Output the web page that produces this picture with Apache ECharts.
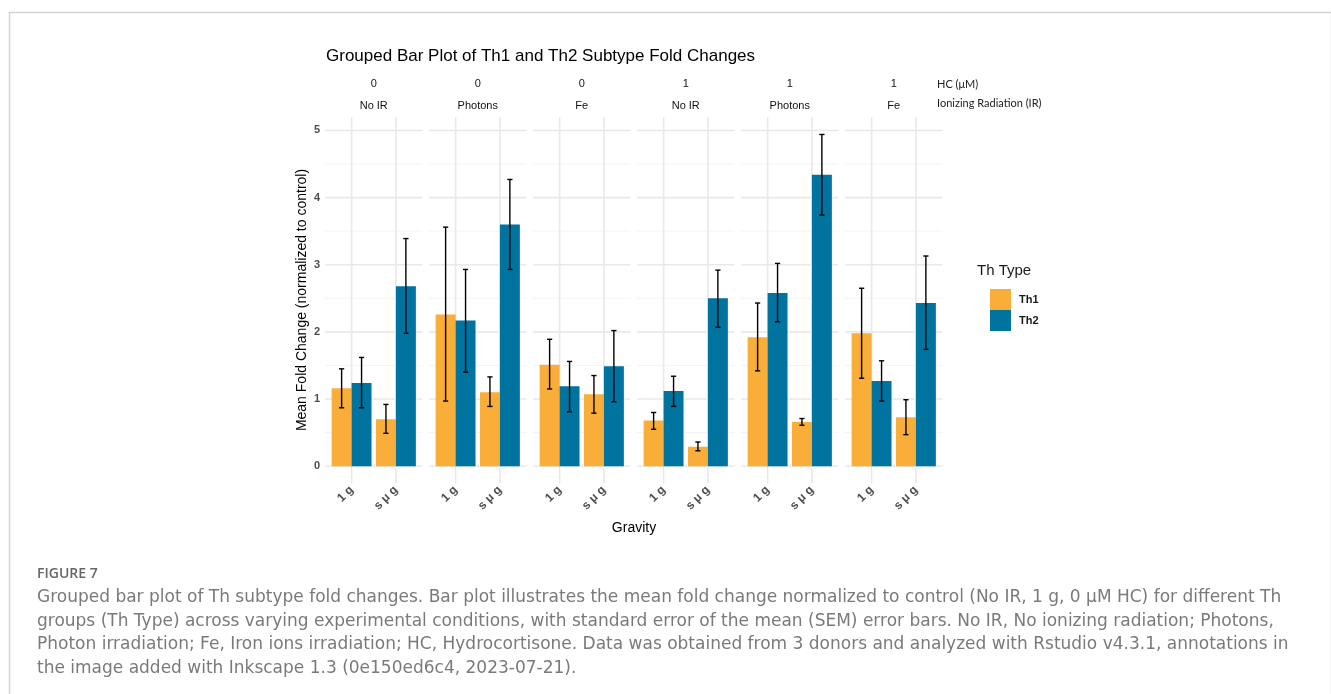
<!DOCTYPE html>
<html>
<head>
<meta charset="utf-8">
<script src="https://cdn.jsdelivr.net/npm/echarts@6/dist/echarts.min.js"></script>
<style>
html,body{margin:0;padding:0;background:#fff;}
#c{width:1331px;height:694px;}
</style>
</head>
<body>
<div id="c"></div>
<script>
// ---- data ----
const facetHC = ['0', '0', '0', '1', '1', '1'];
const facetIR = ['No IR', 'Photons', 'Fe', 'No IR', 'Photons', 'Fe'];
const gravity = ['1 g', 's μ g'];
const seriesNames = ['Th1', 'Th2'];
// per facet: [1 g, s μ g]
const th1Mean  = [[1.16, 0.70], [2.26, 1.10], [1.51, 1.07], [0.68, 0.29], [1.92, 0.66], [1.98, 0.73]];
const th1Lower = [[0.87, 0.49], [0.97, 0.89], [1.15, 0.79], [0.55, 0.23], [1.42, 0.61], [1.31, 0.47]];
const th1Upper = [[1.45, 0.92], [3.56, 1.33], [1.89, 1.35], [0.80, 0.36], [2.43, 0.71], [2.65, 0.99]];
const th2Mean  = [[1.24, 2.68], [2.17, 3.60], [1.19, 1.49], [1.12, 2.50], [2.58, 4.34], [1.27, 2.43]];
const th2Lower = [[0.87, 1.98], [1.40, 2.93], [0.81, 0.96], [0.89, 2.07], [2.15, 3.74], [0.97, 1.74]];
const th2Upper = [[1.62, 3.39], [2.93, 4.27], [1.56, 2.02], [1.34, 2.92], [3.02, 4.94], [1.57, 3.13]];
const yMajorTicks = [0, 1, 2, 3, 4, 5];
const yMinorTicks = [0.5, 1.5, 2.5, 3.5, 4.5];
const xTickPos = [1, 2];

const captionTitle = 'FIGURE 7';
const captionLines = [
  'Grouped bar plot of Th subtype fold changes. Bar plot illustrates the mean fold change normalized to control (No IR, 1 g, 0 μM HC) for different Th',
  'groups (Th Type) across varying experimental conditions, with standard error of the mean (SEM) error bars. No IR, No ionizing radiation; Photons,',
  'Photon irradiation; Fe, Iron ions irradiation; HC, Hydrocortisone. Data was obtained from 3 donors and analyzed with Rstudio v4.3.1, annotations in',
  'the image added with Inkscape 1.3 (0e150ed6c4, 2023-07-21).'
];

// ---- style ----
const COLORS = ['#F9AE3A', '#00739F'];
const FONT = 'Liberation Sans, Arial, sans-serif';
const CAPFONT = 'DejaVu Sans, sans-serif';
const PANEL_LEFT = 325, PANEL_STEP = 104, PANEL_W = 97.5, PANEL_TOP = 117, PANEL_H = 366;
const XMIN = 0.4, XMAX = 2.6, BARW = 0.45;

// caption font size chosen so that the first line spans the same width as the reference
const mctx = document.createElement('canvas').getContext('2d');
mctx.font = '16px ' + CAPFONT;
const capSize = Math.min(17, 16 * 1245 / mctx.measureText(captionLines[0]).width);

const chart = echarts.init(document.getElementById('c'), null, {renderer: 'canvas'});

const grids = [], xAxes = [], yAxes = [], series = [];

function xLabel(v) {
  for (let k = 0; k < xTickPos.length; k++) {
    if (Math.abs(v - xTickPos[k]) < 1e-6) return gravity[k];
  }
  return '';
}

for (let i = 0; i < 6; i++) {
  grids.push({left: PANEL_LEFT + i * PANEL_STEP, top: PANEL_TOP, width: PANEL_W, height: PANEL_H});
  xAxes.push({
    type: 'value', gridIndex: i, min: XMIN, max: XMAX, interval: 0.2,
    axisLine: {show: false}, axisTick: {show: false}, splitLine: {show: false},
    axisLabel: {rotate: 45, margin: 5, fontSize: 12, color: '#4d4d4d', fontFamily: FONT, fontWeight: 'bold', formatter: xLabel}
  });
  yAxes.push({
    type: 'value', gridIndex: i, min: -0.25, max: 5.2, interval: 0.25,
    axisLine: {show: false}, axisTick: {show: false}, splitLine: {show: false},
    axisLabel: {show: i === 0, margin: 5, fontSize: 11, color: '#4d4d4d', fontFamily: FONT, fontWeight: 'bold',
      formatter: v => (Math.abs(v - Math.round(v)) < 1e-9 && v >= 0 ? String(Math.round(v)) : '')}
  });

  // gridlines
  const gl = [];
  yMinorTicks.forEach(v => gl.push([1, v]));
  yMajorTicks.forEach(v => gl.push([0, v]));
  xTickPos.forEach(v => gl.push([2, v]));
  series.push({
    type: 'custom', xAxisIndex: i, yAxisIndex: i, silent: true, z: 0,
    data: gl,
    renderItem: function (params, api) {
      const t = api.value(0), v = api.value(1);
      const cs = params.coordSys;
      if (t === 2) {
        const px = api.coord([v, 0])[0];
        return {type: 'line', shape: {x1: px, y1: cs.y, x2: px, y2: cs.y + cs.height},
          style: {stroke: '#e9e9e9', lineWidth: 1.6}};
      }
      const py = api.coord([1, v])[1];
      return {type: 'line', shape: {x1: cs.x, y1: py, x2: cs.x + cs.width, y2: py},
        style: {stroke: t === 0 ? '#e9e9e9' : '#f2f2f2', lineWidth: t === 0 ? 1.6 : 0.9}};
    }
  });

  // bars + error bars
  [0, 1].forEach(s => {
    const M = s === 0 ? th1Mean : th2Mean, L = s === 0 ? th1Lower : th2Lower, U = s === 0 ? th1Upper : th2Upper;
    const data = xTickPos.map((x, k) => [x, M[i][k], L[i][k], U[i][k]]);
    series.push({
      type: 'custom', name: seriesNames[s], xAxisIndex: i, yAxisIndex: i, z: 2,
      itemStyle: {color: COLORS[s]},
      data: data,
      renderItem: function (params, api) {
        const x = api.value(0), m = api.value(1), lo = api.value(2), hi = api.value(3);
        const off = s === 0 ? -BARW : 0;
        const p0 = api.coord([x + off, m]);
        const p1 = api.coord([x + off + BARW, 0]);
        const cx = api.coord([x + off + BARW / 2, 0])[0];
        const yh = api.coord([x, hi])[1];
        const yl = api.coord([x, lo])[1];
        const cap = 2.6;
        const es = {stroke: '#000', lineWidth: 1.4};
        return {type: 'group', children: [
          {type: 'rect', shape: {x: p0[0], y: p0[1], width: p1[0] - p0[0], height: p1[1] - p0[1]},
            style: {fill: COLORS[s]}},
          {type: 'line', shape: {x1: cx, y1: yh, x2: cx, y2: yl}, style: es},
          {type: 'line', shape: {x1: cx - cap, y1: yh, x2: cx + cap, y2: yh}, style: es},
          {type: 'line', shape: {x1: cx - cap, y1: yl, x2: cx + cap, y2: yl}, style: es}
        ]};
      }
    });
  });
}

// graphic texts
const graphics = [];
graphics.push({type: 'rect', left: 7, top: 10, shape: {width: 1322, height: 720},
  style: {fill: 'none', stroke: '#d4d4d4', lineWidth: 1.5}, silent: true});
graphics.push({type: 'text', x: 326, y: 56, style: {text: 'Grouped Bar Plot of Th1 and Th2 Subtype Fold Changes',
  font: '17px ' + FONT, fill: '#000', textVerticalAlign: 'middle'}});
for (let i = 0; i < 6; i++) {
  const cx = PANEL_LEFT + i * PANEL_STEP + PANEL_W / 2;
  graphics.push({type: 'text', x: cx, y: 84, style: {text: facetHC[i], font: '11px ' + FONT, fill: '#111',
    textAlign: 'center', textVerticalAlign: 'middle'}});
  graphics.push({type: 'text', x: cx, y: 106, style: {text: facetIR[i], font: '11px ' + FONT, fill: '#111',
    textAlign: 'center', textVerticalAlign: 'middle'}});
}
graphics.push({type: 'text', x: 937, y: 84, style: {text: 'HC (μM)', font: '11px Lato, sans-serif', fill: '#222', textVerticalAlign: 'middle'}});
graphics.push({type: 'text', x: 937, y: 103, style: {text: 'Ionizing Radiation (IR)', font: '11px Lato, sans-serif', fill: '#222', textVerticalAlign: 'middle'}});
graphics.push({type: 'text', x: 302, y: 300, rotation: Math.PI / 2, style: {text: 'Mean Fold Change (normalized to control)',
  font: '14px ' + FONT, fill: '#000', textAlign: 'center', textVerticalAlign: 'middle'}});
graphics.push({type: 'text', x: 634, y: 528, style: {text: 'Gravity', font: '14px ' + FONT, fill: '#000',
  textAlign: 'center', textVerticalAlign: 'middle'}});
graphics.push({type: 'text', x: 977, y: 271, style: {text: 'Th Type', font: '15px ' + FONT, fill: '#1a1a1a', textVerticalAlign: 'middle'}});
graphics.push({type: 'text', x: 37, y: 574, style: {text: captionTitle, font: '600 14px Open Sans, sans-serif', fill: '#666', textVerticalAlign: 'middle'}});
captionLines.forEach((t, k) => {
  graphics.push({type: 'text', x: 37, y: 598 + k * 23.5, style: {text: t, font: capSize.toFixed(2) + 'px ' + CAPFONT, fill: '#7a7a7a', textVerticalAlign: 'middle'}});
});

chart.setOption({
  animation: false,
  backgroundColor: '#fff',
  grid: grids, xAxis: xAxes, yAxis: yAxes, series: series,
  legend: {
    data: seriesNames.map(n => ({name: n, icon: 'rect'})),
    orient: 'vertical', left: 990, top: 289, padding: 0,
    itemWidth: 21, itemHeight: 21, itemGap: 0,
    textStyle: {fontSize: 11, fontWeight: 'bold', color: '#1a1a1a', fontFamily: FONT, padding: [0, 0, 0, 3]}
  },
  graphic: graphics
});
</script>
</body>
</html>
